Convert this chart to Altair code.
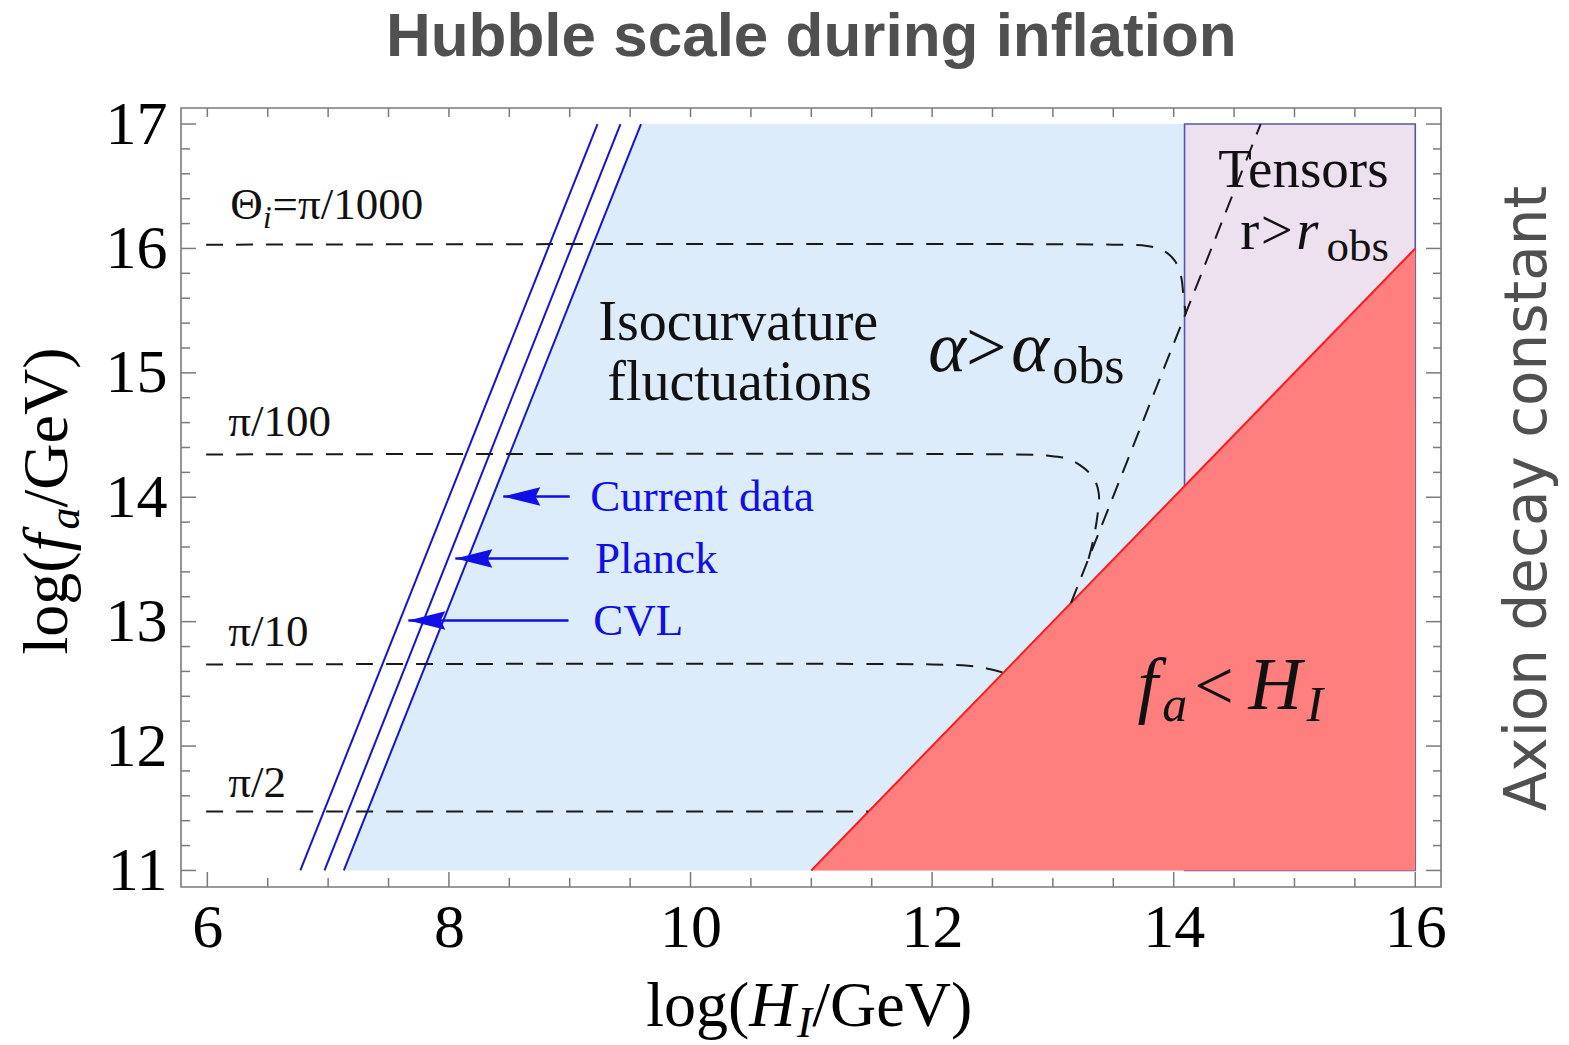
import altair as alt
import pandas as pd

# ---------------------------------------------------------------------------
# Plot frame (log10 of GeV on both axes)
# ---------------------------------------------------------------------------
H_DOMAIN = [5.782, 16.213]
F_DOMAIN = [10.867, 17.129]
W, HT = 1260, 779

SERIF = "Liberation Serif"
BLUE_LINE = "#1414D2"
BLUE_TEXT = "#0F0FE6"
ISO_FILL = "#DCECFB"
TENSOR_FILL = "#EDE1F0"
TENSOR_EDGE = "#5656A8"
EXCL_FILL = "#FF7F7F"
EXCL_EDGE = "#FF1A1A"
DASH_COLOR = "#1a1a1a"
FRAME = "#7a7a7a"

# tick positions
x_major_ticks = [6, 8, 10, 12, 14, 16]
x_minor_ticks = [v / 2 for v in range(12, 33) if v % 4 != 0]
y_major_ticks = [11, 12, 13, 14, 15, 16, 17]
y_minor_ticks = [round(11 + 0.2 * i, 1) for i in range(31) if i % 5 != 0]

# ---------------------------------------------------------------------------
# Isocurvature bounds: log H_I where each bound crosses log f_a = 11 and 17
# ---------------------------------------------------------------------------
bound_names = ["CVL", "Planck", "Current data"]
bound_f_ends = [11.0, 17.0]
bound_h_at_11 = [6.77, 6.97, 7.13]
bound_h_at_17 = [9.23, 9.42, 9.59]

# excluded regions
iso_right_edge = 14.09          # isocurvature region ends where tensors start
tensor_h = [14.09, 16.0]
tensor_f = [11.0, 17.0]
diag_h = [11.0, 16.0]           # f_a = H_I
diag_f = [11.0, 16.0]

# initial misalignment angle contours
theta_names = ["pi/1000", "pi/100", "pi/10", "pi/2"]
theta_h = [
    [5.99, 13.5, 13.78, 13.92, 14.01, 14.06, 14.08, 14.1],
    [5.99, 12.7, 12.95, 13.12, 13.25, 13.34, 13.38, 13.37, 13.33, 13.28],
    [5.99, 12.0, 12.3, 12.47, 12.59],
    [5.99, 11.47],
]
theta_f = [
    [16.03, 16.03, 16.02, 15.98, 15.9, 15.78, 15.63, 15.47],
    [14.344, 14.344, 14.335, 14.31, 14.24, 14.15, 14.03, 13.86, 13.64, 13.45],
    [12.656, 12.656, 12.645, 12.62, 12.59],
    [11.474, 11.474],
]

# alpha = alpha_obs line (fluctuation dominated)
alpha_h = [13.15, 14.72]
alpha_f = [13.15, 17.0]

# arrows pointing at each bound
arrow_names = ["Current data", "Planck", "CVL"]
arrow_f = [14.006, 13.508, 13.01]
arrow_tip = [8.45, 8.053, 7.664]
arrow_tail = [9.0, 8.99, 8.99]


# ---------------------------------------------------------------------------
# Shared scales / axes
# ---------------------------------------------------------------------------
def X(field):
    return alt.X(
        f"{field}:Q",
        scale=alt.Scale(domain=H_DOMAIN, nice=False, zero=False),
        axis=alt.Axis(values=x_major_ticks, ticks=False, tickSize=0, domain=False,
                      grid=False, labelFont=SERIF, labelFontSize=62,
                      labelColor="#000000", labelPadding=10, labelFlush=False,
                      labelOverlap=False, title=None),
    )


def Y(field):
    return alt.Y(
        f"{field}:Q",
        scale=alt.Scale(domain=F_DOMAIN, nice=False, zero=False),
        axis=alt.Axis(values=y_major_ticks, ticks=False, tickSize=0, domain=False,
                      grid=False, labelFont=SERIF, labelFontSize=62,
                      labelColor="#000000", labelPadding=14, labelFlush=False,
                      labelOverlap=False, title=None),
    )


# ---------------------------------------------------------------------------
# Regions
# ---------------------------------------------------------------------------
iso_df = pd.DataFrame({
    "f": bound_f_ends,
    "h": [bound_h_at_11[2], bound_h_at_17[2]],
    "h2": [iso_right_edge, iso_right_edge],
})
iso_area = alt.Chart(iso_df).mark_area(orient="horizontal", color=ISO_FILL, opacity=1).encode(
    y=Y("f"), x=X("h"), x2="h2")

tensor_df = pd.DataFrame({"h1": [tensor_h[0]], "h2": [tensor_h[1]],
                          "f1": [tensor_f[0]], "f2": [tensor_f[1]]})
tensor_box = alt.Chart(tensor_df).mark_rect(fill=TENSOR_FILL, stroke=TENSOR_EDGE,
                                            strokeWidth=1.6).encode(
    x=X("h1"), x2="h2", y=Y("f1"), y2="f2")

excl_df = pd.DataFrame({"h": diag_h, "f": diag_f, "f0": [diag_f[0], diag_f[0]]})
excl_area = alt.Chart(excl_df).mark_area(color=EXCL_FILL, opacity=1).encode(
    x=X("h"), y=Y("f"), y2="f0")
excl_edge = alt.Chart(excl_df).mark_line(color=EXCL_EDGE, strokeWidth=2).encode(
    x=X("h"), y=Y("f"))

# ---------------------------------------------------------------------------
# Lines
# ---------------------------------------------------------------------------
bound_rows = []
for name, h0, h1 in zip(bound_names, bound_h_at_11, bound_h_at_17):
    bound_rows.append({"name": name, "h": h0, "f": bound_f_ends[0]})
    bound_rows.append({"name": name, "h": h1, "f": bound_f_ends[1]})
bounds = alt.Chart(pd.DataFrame(bound_rows)).mark_line(color=BLUE_LINE, strokeWidth=2).encode(
    x=X("h"), y=Y("f"), detail="name:N")

theta_rows = []
for name, hs, fs in zip(theta_names, theta_h, theta_f):
    for i, (h, f) in enumerate(zip(hs, fs)):
        theta_rows.append({"name": name, "idx": i, "h": h, "f": f})
theta_lines = alt.Chart(pd.DataFrame(theta_rows)).mark_line(
    color=DASH_COLOR, strokeWidth=2, strokeDash=[17, 13], interpolate="catmull-rom").encode(
    x=X("h"), y=Y("f"), detail="name:N", order="idx:Q")

alpha_line = alt.Chart(pd.DataFrame({"h": alpha_h, "f": alpha_f})).mark_line(
    color=DASH_COLOR, strokeWidth=2, strokeDash=[17, 11]).encode(x=X("h"), y=Y("f"))

arrow_df = pd.DataFrame({"name": arrow_names, "f": arrow_f, "tip": arrow_tip, "tail": arrow_tail})
arrow_shafts = alt.Chart(arrow_df).mark_rule(color=BLUE_TEXT, strokeWidth=2.5).encode(
    x=X("tip"), x2="tail", y=Y("f"))
arrow_heads = alt.Chart(arrow_df).mark_point(
    shape="M 0 0 L 2 -0.5 L 1.75 0 L 2 0.5 Z", size=1369, filled=True,
    color=BLUE_TEXT, opacity=1, strokeWidth=0).encode(x=X("tip"), y=Y("f"))

# ---------------------------------------------------------------------------
# Frame ticks (pointing inwards)
# ---------------------------------------------------------------------------
def tick_layer(values, horizontal_axis, p0, p1):
    df = pd.DataFrame({"v": values})
    base = alt.Chart(df).mark_rule(color=FRAME, strokeWidth=1.5)
    if horizontal_axis:
        return base.encode(x=X("v"), y=alt.value(p0), y2=alt.value(p1))
    return base.encode(y=Y("v"), x=alt.value(p0), x2=alt.value(p1))


ticks = [
    tick_layer(x_major_ticks, True, HT, HT - 15),
    tick_layer(x_minor_ticks, True, HT, HT - 9),
    tick_layer(x_major_ticks + x_minor_ticks, True, 0, 9),
    tick_layer(y_major_ticks, False, 0, 15),
    tick_layer(y_minor_ticks, False, 0, 9),
    tick_layer(y_major_ticks, False, W, W - 15),
    tick_layer(y_minor_ticks, False, W, W - 8),
]

# ---------------------------------------------------------------------------
# Text (pieces are split where the style or size changes)
# ---------------------------------------------------------------------------
BLACK = "#111111"
upright = [
    ("Θ", 6.19, 16.233, 45, BLACK),
    ("=π/1000", 6.54, 16.233, 45, BLACK),
    ("π/100", 6.174, 14.489, 45, BLACK),
    ("π/10", 6.174, 12.801, 45, BLACK),
    ("π/2", 6.174, 11.587, 45, BLACK),
    ("Isocurvature", 9.237, 15.268, 56, BLACK),
    ("fluctuations", 9.311, 14.778, 56, BLACK),
    (">", 12.28, 15.011, 72, BLACK),
    ("obs", 12.995, 14.915, 52, BLACK),
    ("Tensors", 14.369, 16.49, 55, BLACK),
    ("r", 14.551, 15.992, 57, BLACK),
    (">", 14.72, 15.992, 57, BLACK),
    ("obs", 15.265, 15.9, 45, BLACK),
    ("<", 14.17, 12.294, 70, BLACK),
    ("Current data", 9.17, 13.886, 45, BLUE_TEXT),
    ("Planck", 9.21, 13.395, 45, BLUE_TEXT),
    ("CVL", 9.195, 12.889, 45, BLUE_TEXT),
    # horizontal axis title
    ("log(", 9.634, 9.746, 64, "#000000"),
    ("/GeV)", 11.008, 9.746, 64, "#000000"),
]
italic = [
    ("i", 6.46, 16.161, 31, BLACK),
    ("α", 11.969, 15.011, 72, BLACK),
    ("α", 12.655, 15.011, 72, BLACK),
    ("r", 15.015, 15.992, 57, BLACK),
    ("f", 13.70, 12.294, 74, BLACK),
    ("a", 13.905, 12.198, 50, BLACK),
    ("H", 14.62, 12.294, 74, BLACK),
    ("I", 15.10, 12.198, 50, BLACK),
    ("H", 10.487, 9.746, 64, "#000000"),
    ("I", 10.884, 9.658, 44, "#000000"),
]
# vertical axis title, rotated
upright_rot = [
    ("log(", 4.841, 12.736, 64, "#000000"),
    ("/GeV)", 4.841, 13.918, 64, "#000000"),
]
italic_rot = [
    ("f", 4.841, 13.564, 64, "#000000"),
    ("a", 4.940, 13.741, 44, "#000000"),
]


def text_layer(rows, style, angle=0):
    df = pd.DataFrame(rows, columns=["text", "h", "f", "size", "color"])
    return alt.Chart(df).mark_text(
        font=SERIF, fontStyle=style, align="left", baseline="alphabetic", angle=angle
    ).encode(
        x=X("h"), y=Y("f"), text="text:N",
        size=alt.Size("size:Q", scale=None, legend=None),
        color=alt.Color("color:N", scale=None, legend=None),
    )


texts = [
    text_layer(upright, "normal"),
    text_layer(italic, "italic"),
    text_layer(upright_rot, "normal", 270),
    text_layer(italic_rot, "italic", 270),
]

top_title = alt.Chart(pd.DataFrame({"text": ["Hubble scale during inflation"],
                                    "h": [11.0], "f": [17.551]})).mark_text(
    font="Liberation Sans", fontWeight="bold", fontSize=62, color="#505050",
    align="center", baseline="alphabetic").encode(x=X("h"), y=Y("f"), text="text:N")

side_title = alt.Chart(pd.DataFrame({"text": ["Axion decay constant"],
                                     "h": [17.084], "f": [13.99]})).mark_text(
    font="DejaVu Sans", fontSize=58, color="#505050", angle=270,
    align="center", baseline="alphabetic").encode(x=X("h"), y=Y("f"), text="text:N")

chart = alt.layer(
    iso_area, tensor_box, excl_area, excl_edge,
    bounds, theta_lines, alpha_line,
    arrow_shafts, arrow_heads,
    *ticks, *texts, top_title, side_title,
).properties(
    width=W, height=HT,
    autosize=alt.AutoSizeParams(type="none"),
    padding={"left": 181, "top": 108, "right": 128, "bottom": 158},
    background="white",
).configure_view(stroke=FRAME, strokeWidth=1.6)

chart.save("out.html", embed_options={"renderer": "svg", "actions": False})
